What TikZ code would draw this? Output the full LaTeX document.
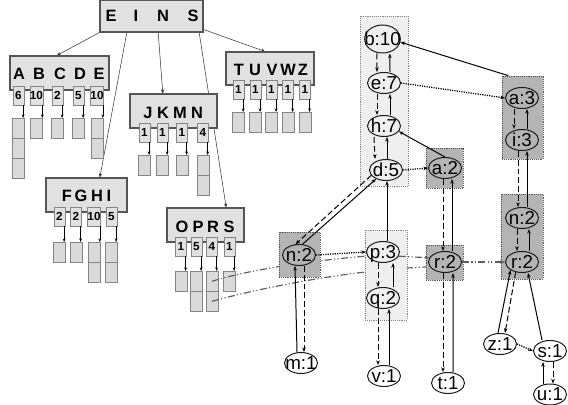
\documentclass[tikz,border=0pt]{standalone}
\usepackage{fontspec}
\setmainfont{Liberation Sans}
\usetikzlibrary{positioning, arrows.meta, fit, backgrounds, shapes.geometric}
\definecolor{boxGrey}{HTML}{E1E1E1}
\definecolor{cellGrey}{HTML}{DADADA}
\definecolor{edgeGrey}{HTML}{555555}
\definecolor{lineGrey}{HTML}{858585}
\definecolor{grpLight}{HTML}{EFEFEF}
\definecolor{grpDark}{HTML}{B4B4B4}
\definecolor{linkGrey}{HTML}{5E5E5E}
% one column of the hash table: count box, pointer, bucket cells
\newcommand{\slotcol}[6]{%
  \node[cnt, anchor=north] (#1) at (#2,#3) {#4};
  \foreach \k in {1,...,#6}
    \node[cell, anchor=north] (#1-\k) at ({#2},{#5+20*(\k-1)}) {};
  \draw[ptr] ([xshift=-0.03cm]#1.south east) coordinate (#1-p) -- (#1-p |- #1-1.north);
}
\newcommand{\tlab}[1]{\makebox[0pt]{#1}}

\begin{document}
\begin{tikzpicture}[x=0.03cm, y=-0.03cm,
  hbox/.style={draw=edgeGrey, fill=boxGrey, line width=0.9pt, inner sep=0pt},
  letter/.style={inner sep=0pt, font=\fontsize{14}{14}\selectfont\bfseries},
  cnt/.style={draw=lineGrey, fill=boxGrey, line width=0.5pt, minimum width=0.32cm, minimum height=0.56cm, inner sep=0pt, font=\fontsize{10}{10}\selectfont\bfseries},
  cell/.style={draw=lineGrey, fill=cellGrey, line width=0.5pt, minimum width=0.35cm, minimum height=0.6cm, inner sep=0pt},
  ptr/.style={-{Stealth[length=3pt,width=2.4pt]}, line width=0.5pt},
  feed/.style={-{Stealth[length=3.5pt,width=2.8pt]}, line width=0.45pt, draw=black!80},
  grplight/.style={draw=lineGrey, densely dotted, fill=grpLight, line width=0.6pt, inner sep=0pt},
  grpdark/.style={draw=edgeGrey, densely dotted, fill=grpDark, line width=0.6pt, inner sep=0pt},
  tn/.style={ellipse, draw=black!90, line width=0.85pt, minimum width=0.99cm, minimum height=0.63cm, inner sep=0pt, text height=11pt, text depth=0pt, font=\fontsize{16}{16}\selectfont},
  tochild/.style={-{Stealth[length=4pt,width=3pt]}, line width=0.85pt, dash pattern=on 5pt off 2.5pt},
  toparent/.style={-{Stealth[length=4pt,width=3pt]}, line width=0.85pt},
  sib/.style={-{Stealth[length=4pt,width=3pt]}, line width=1.1pt, dash pattern=on 1pt off 1pt},
  link/.style={-{Stealth[length=4pt,width=3pt]}, line width=1pt, draw=linkGrey, dash pattern=on 6pt off 2pt on 1pt off 2pt on 1pt off 2pt}]
  \useasboundingbox (0,0) rectangle (568,405);

  % top level
  \node[hbox, fit={(100,0.6) (203,32)}] (eins) {};
  \foreach \l/\x in {E/111,I/136,N/163,S/193} \node[letter] (eins-\l) at (\x,16) {\l};

  % A B C D E
  \node[hbox, fit={(10,56) (109,90)}] (abcde) {};
  \foreach \l/\x in {A/19,B/39,C/60,D/80,E/99} \node[letter] (abcde-\l) at (\x,74) {\l};
  \slotcol{cA}{18.5}{86}{6}{118}{3}
  \slotcol{cB}{36.5}{86}{10}{118}{1}
  \slotcol{cC}{57.5}{86}{2}{118}{1}
  \slotcol{cD}{78.5}{86}{5}{118}{1}
  \slotcol{cE}{97}{86}{10}{118}{2}

  % J K M N
  \node[hbox, fit={(130,94) (217,128)}] (jkmn) {};
  \foreach \l/\x in {J/148,K/163,M/180,N/197} \node[letter] (jkmn-\l) at (\x,113) {\l};
  \slotcol{cJ}{144.5}{123}{1}{155}{1}
  \slotcol{cK}{162.5}{123}{1}{155}{1}
  \slotcol{cM}{182}{123}{1}{155}{1}
  \slotcol{cN}{203}{123}{4}{155}{2}

  % T U V W Z
  \node[hbox, fit={(226,52) (314,85)}] (tuvwz) {};
  \foreach \l/\x in {T/239,U/255,V/272,W/288,Z/303} \node[letter] (tuvwz-\l) at (\x,70) {\l};
  \slotcol{cT}{238.5}{80}{1}{112}{1}
  \slotcol{cU}{255.5}{80}{1}{112}{1}
  \slotcol{cV}{271.5}{80}{1}{112}{1}
  \slotcol{cW}{288}{80}{1}{112}{1}
  \slotcol{cZ}{305}{80}{1}{112}{1}

  % F G H I
  \node[hbox, fit={(46,178) (127,212)}] (fghi) {};
  \foreach \l/\x in {F/67,G/81,H/97,I/109} \node[letter] (fghi-\l) at (\x,196) {\l};
  \slotcol{cF}{59.5}{207}{2}{242}{1}
  \slotcol{cG}{76}{207}{2}{242}{1}
  \slotcol{cH}{94}{207}{10}{242}{2}
  \slotcol{cI}{111.5}{207}{5}{242}{2}

  % O P R S
  \node[hbox, fit={(167,208) (244,242)}] (oprs) {};
  \foreach \l/\x in {O/182,P/198,R/213,S/229} \node[letter] (oprs-\l) at (\x,227) {\l};
  \slotcol{cO}{181}{237}{1}{271}{1}
  \slotcol{cP}{196.5}{237}{5}{271}{2}
  \slotcol{cR}{212}{237}{4}{271}{2}
  \slotcol{cS}{229.5}{237}{1}{271}{1}

  \begin{scope}[on background layer]
    \draw[feed] (eins.south west) -- ([xshift=-0.08cm]abcde.north);
    \draw[feed] ([xshift=-0.74cm]eins.south) -- ([xshift=0.4cm]fghi.north);
    \draw[feed] ([xshift=0.2cm]eins.south) -- ([xshift=-0.32cm]jkmn.north);
    \draw[feed] ([xshift=1.43cm]eins.south) -- ([xshift=0.62cm]oprs.north);
    \draw[feed] ([yshift=0.09cm]eins.south east) -- ([xshift=-0.15cm]tuvwz.north);
  \end{scope}

  % links from the R bucket into the tree
  \coordinate (pq-in) at (367,256);
  \coordinate (r2M-in) at (426,267);
  \draw[link, -] (cR-1.center) .. controls (255,268) and (320,260) .. (pq-in);
  \draw[link, -] (cR-2.center) .. controls (260,288) and (350,270) .. (r2M-in);

  % groups
  \node[grplight, fit={(360,16) (408,186)}] (gbehd) {};
  \node[grpdark, fit={(502,76) (543,159)}] (gai) {};
  \node[grpdark, fit={(426,148) (463,188)}] (ga2) {};
  \node[grpdark, fit={(501,194) (543,279)}] (gnr) {};
  \node[grpdark, fit={(279,232) (320,277)}] (gn2) {};
  \node[grplight, fit={(365,230) (407,320)}] (gpq) {};
  \node[grpdark, fit={(426,245) (463,280)}] (gr2) {};

  % tree nodes
  \node[tn, minimum width=1.07cm, minimum height=0.84cm] (b10) at (382.5,39) {\tlab{b:10}};
  \node[tn] (e7) at (384,83) {\tlab{e:7}};
  \node[tn] (h7) at (384,126) {\tlab{h:7}};
  \node[tn] (d5) at (386,170) {\tlab{d:5}};
  \node[tn] (a2) at (445,168) {\tlab{a:2}};
  \node[tn] (a3) at (522,98) {\tlab{a:3}};
  \node[tn] (i3) at (522,140) {\tlab{i:3}};
  \node[tn] (n2R) at (522,218) {\tlab{n:2}};
  \node[tn] (r2R) at (522,262) {\tlab{r:2}};
  \node[tn] (n2L) at (299,255) {\tlab{n:2}};
  \node[tn] (p3) at (383,252) {\tlab{p:3}};
  \node[tn] (q2) at (383,298) {\tlab{q:2}};
  \node[tn] (r2M) at (445,262) {\tlab{r:2}};
  \node[tn] (m1) at (301,363) {\tlab{m:1}};
  \node[tn] (v1) at (384,376) {\tlab{v:1}};
  \node[tn] (t1) at (448,383) {\tlab{t:1}};
  \node[tn] (z1) at (500,344) {\tlab{z:1}};
  \node[tn] (s1) at (550,351) {\tlab{s:1}};
  \node[tn] (u1) at (550,394.5) {\tlab{u:1}};

  % parent / child pointers
  \draw[tochild] ([xshift=-0.17cm]b10.south) -- ([xshift=-0.21cm]e7.north);
  \draw[toparent] ([xshift=0.18cm]e7.north) -- ([xshift=0.22cm]b10.south);
  \draw[tochild] ([xshift=-0.21cm]e7.south) -- ([xshift=-0.21cm]h7.north);
  \draw[toparent] ([xshift=0.18cm]h7.north) -- ([xshift=0.18cm]e7.south);
  \draw[tochild] ([xshift=-0.3cm]h7.south) -- ([xshift=-0.33cm]d5.north);
  \draw[toparent] ([xshift=0.03cm]d5.north) -- ([xshift=0.09cm]h7.south);
  \draw[tochild] (d5.200) -- (n2L.108);
  \draw[toparent] (n2L.72) -- (d5.222);
  \draw[toparent] ([xshift=0.12cm]p3.north) -- ([xshift=0.03cm]d5.south);
  \draw[toparent] (a2.north) -- (h7.340);
  \draw[toparent] ([xshift=0.2cm]gai.north west) -- (b10.350);
  \draw[tochild] ([xshift=-0.24cm]a3.south) -- ([xshift=-0.24cm]i3.north);
  \draw[toparent] ([xshift=0.15cm]i3.north) -- ([xshift=0.15cm]a3.south);
  \draw[tochild] ([xshift=-0.12cm]i3.south) -- ([xshift=-0.12cm]n2R.north);
  \draw[toparent] ([xshift=0.15cm]n2R.north) -- ([xshift=0.15cm]i3.south);
  \draw[tochild] ([xshift=-0.15cm]n2R.south) -- ([xshift=-0.15cm]r2R.north);
  \draw[toparent] ([xshift=0.21cm]r2R.north) -- ([xshift=0.21cm]n2R.south);
  \draw[tochild] (r2R.238) -- ([xshift=0.15cm]z1.north);
  \draw[toparent] ([xshift=-0.06cm]z1.north) -- (r2R.215);
  \draw[toparent] ([xshift=-0.24cm]s1.north) -- ([xshift=0.18cm]r2R.south);
  \draw[tochild] ([xshift=0.09cm]s1.south) -- ([xshift=0.09cm]u1.north);
  \draw[toparent] ([xshift=-0.21cm]u1.north) -- ([xshift=-0.21cm]s1.south);
  \draw[tochild] ([xshift=-0.06cm]a2.south) -- ([xshift=-0.06cm]r2M.north);
  \draw[toparent] ([xshift=0.21cm]r2M.north) -- ([xshift=0.21cm]a2.south);
  \draw[tochild] ([xshift=-0.06cm]r2M.south) -- ([xshift=-0.15cm]t1.north);
  \draw[toparent] ([xshift=0.15cm]t1.north) -- ([xshift=0.24cm]r2M.south);
  \draw[toparent] ([xshift=-0.12cm]m1.north) -- ([xshift=-0.12cm]n2L.south);
  \draw[tochild] ([xshift=0.15cm]n2L.south) -- ([xshift=0.09cm]m1.north);
  \draw[tochild] ([xshift=-0.15cm]p3.south) -- ([xshift=-0.15cm]q2.north);
  \draw[toparent] ([xshift=0.3cm]q2.north) -- ([xshift=0.3cm]p3.south);
  \draw[tochild] ([xshift=-0.15cm]q2.south) -- ([xshift=-0.18cm]v1.north);
  \draw[toparent] ([xshift=0.15cm]v1.north) -- ([xshift=0.18cm]q2.south);

  % sibling pointers
  \draw[sib] (d5.east) -- (a2.west);
  \draw[sib] (e7.east) -- (a3.west);
  \draw[sib] (n2L.east) -- (p3.west);
  \draw[sib] (z1.east) -- (s1.west);

  % same-letter links
  \draw[link] (p3.345) -- (r2M.165);
  \draw[link] (r2M.east) -- (r2R.west);
\end{tikzpicture}
\end{document}
